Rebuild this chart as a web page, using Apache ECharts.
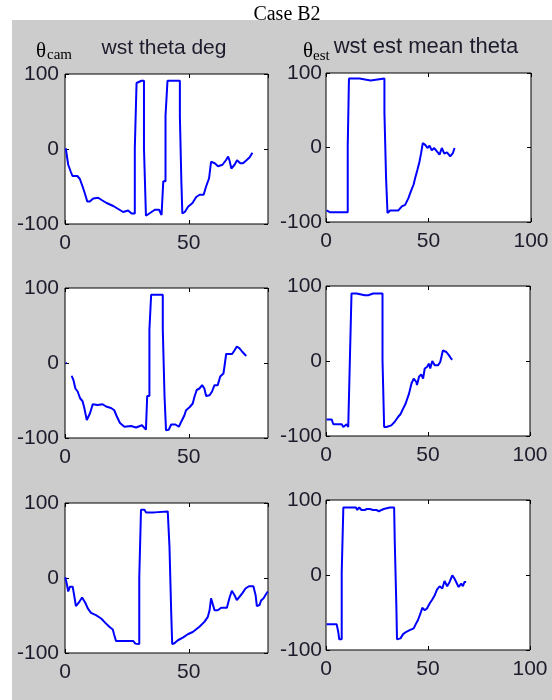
<!DOCTYPE html>
<html>
<head>
    <meta charset="utf-8">
</head>
<body style="margin: 0; background: #fff">
<div id="container" style="width: 552px; height: 700px"></div>

<script type="text/javascript" src="https://fastly.jsdelivr.net/npm/echarts/dist/echarts.min.js"></script>

<script type="text/javascript">
    // y ticks shared by all six panels, x ticks differ between columns
    var yTicks = [-100, 0, 100];
    var xTicksCam = [0, 50];
    var xMaxCam = 82;
    var xTicksEst = [0, 50, 100];

    var titleCam = 'wst theta deg';
    var titleEst = 'wst est mean theta';

    // left column: theta from camera, [sample, deg]
    var cam1 = [
        [0.3, 1], [1.3, -21], [2.3, -30], [3, -36], [5, -36], [6, -40], [7.1, -50], [8, -59], [9, -70], [10, -70],
        [11.4, -66], [13.4, -65], [14.8, -68], [16.8, -72], [19.5, -76], [21.5, -80], [23.5, -84], [25.5, -82],
        [26.9, -86], [28.2, -86], [28.2, 1], [28.9, 1], [28.9, 88], [30.9, 91], [31.9, 91], [31.9, 1], [32.7, 1],
        [32.7, -89], [34.5, -85], [36.3, -81], [38, -81], [39, -88], [39.7, -89], [39.7, -43], [40.6, -43],
        [40.6, 44], [41.4, 44], [41.4, 91], [46.4, 91], [46.4, 44], [47, 44], [47, -43], [47.4, -86], [48.4, -84],
        [49.7, -77], [51.5, -72], [53, -64], [54.4, -61], [56, -61], [57, -50], [58.2, -39], [59, -17],
        [60.5, -19], [61.8, -23], [63.6, -21], [65, -15], [65.9, -10], [66.5, -16], [67.2, -26], [68.5, -21],
        [69.5, -15], [70.8, -19], [71.9, -19], [73.3, -15], [74.6, -11], [75.7, -5]
    ];
    var cam2 = [
        [0.3, 0], [0.7, 0], [1.5, '-'], [2.7, -17], [3.4, -22.8], [4.2, -34], [5.1, -38], [6.1, -47], [7.1, -51],
        [7.8, -60], [8.8, -76], [9.6, -76], [10.1, -67], [11.2, -55], [13.2, -56], [15.2, -55], [16.6, -58],
        [18.6, -60], [19.9, -63], [20.9, -71], [22.2, -80], [24, -85], [26.7, -84], [28.7, -86], [31.1, -83],
        [32.7, -88.8], [33.2, -88.8], [33.2, -44], [34.1, -44], [34.1, 45], [34.8, 45], [34.8, 91], [39.5, 91],
        [39.5, 45], [40.2, 45], [40.2, -44], [40.8, -44], [40.8, -89.7], [41.9, -89], [42.9, -82], [44.6, -82],
        [46, -85], [46.9, -78.6], [48.2, -70], [48.9, -63], [50.3, -59], [51.6, -54], [52.3, -45], [53.2, -36],
        [54.3, -34], [55.4, -29.5], [56.3, -34], [57, -44], [58.4, -43], [59.4, -38], [60.4, -29.5], [61.7, -29.5],
        [62.7, -18], [64, -14], [64.4, -5], [65.1, 12], [67.5, 12], [68.5, 17], [69.4, 22], [70.5, 19.6],
        [71.6, 15], [73.2, 9.4]
    ];
    var cam3 = [
        [0.1, 1], [0.8, -9], [1.3, -18], [2, -11.6], [3.1, -11.6], [3.8, -25], [4.4, -37.5], [5.8, -31.7],
        [6.9, -26], [8.2, -33], [9.2, -40.6], [10.5, -46.4], [12.5, -49.6], [14.6, -54], [16.3, -59.8],
        [17.9, -65], [19.3, -68.7], [19.9, -76], [20.6, -84], [27.6, -84], [28.4, -87.5], [30, -88], [30, 1],
        [30.7, 1], [30.7, 91], [32.1, 91], [32.7, 87.5], [36.1, 87.5], [36.8, 88.8], [41.5, 88.8], [42.2, 42],
        [42.6, 42], [42.9, -46], [43.3, -46], [43.3, -88], [44.2, -87], [45.6, -83], [47.6, -79.5], [49.6, -75],
        [51.6, -72], [54.3, -65], [56.3, -58.5], [57.7, -51.8], [58.4, -43], [59, -27], [59.7, -27], [60.4, -43],
        [61.7, -43], [63.1, -39.7], [65.4, -39.7], [66.4, -27], [67.4, -17], [68.5, -23], [69.4, -29.5],
        [70.5, -25], [71.6, -20.5], [72.9, -14], [74.3, -11], [76.1, -11], [77, -23], [77.5, -37.5], [78.6, -36],
        [79.2, -30], [80.2, -27], [81.3, -21], [81.9, -18]
    ];

    // right column: estimated mean theta
    var est1 = [
        [0.3, -84.5], [2, -87], [5.2, -87], [6, -85], [6.8, -87], [10.6, -87], [10.6, 1.5], [11.2, 1.5],
        [11.2, 92.5], [16.3, 92.5], [16.9, 90], [21.8, 90], [22.5, 92.5], [28.5, 92.5], [28.5, 47], [29.3, 47],
        [29.3, -41], [30, -41], [30, -88], [31.3, -84.5], [35.3, -84.5], [37, -79], [38.6, -77], [40.2, -68],
        [41.4, -59], [42.7, -50], [43.5, -41], [44.6, -30], [45.6, -19], [46.4, -7.6], [47.2, 5.8], [48.4, 3.5],
        [49.5, -0.7], [50.5, 2.5], [51.6, -3.8], [52.8, -0.7], [54, -5], [55.4, -9.6], [56.5, -0.7], [57.7, -8.3],
        [59, -6.5], [60.6, -11.9], [61.9, -7.4], [62.7, -0.7]
    ];
    var est2 = [
        [0.3, -78], [2.8, -78], [3.6, -84.4], [7.7, -84.4], [8.5, -88], [10.1, -84.4], [10.9, -88], [11.7, -88],
        [11.7, 1], [12.5, 1], [12.5, 90], [15, 90], [15.8, 87.6], [19, 87.6], [19.9, 90], [20.7, 87.6], [23.1, 90],
        [27.7, 90], [27.7, 1], [28.5, 1], [28.5, -88], [29.6, -88], [32, -85.8], [33.7, -81], [35.3, -74.7],
        [36.5, -71], [37.8, -63.5], [39, -57], [39.9, -54.7], [40.7, -43.5], [41.9, -30], [43, -23.5], [44.3, -28],
        [44.6, -32], [45.6, -21], [46.7, -17.8], [47.6, -23.5], [48.4, -10], [49.5, -8], [50.5, -3.5], [51.1, -10],
        [52.1, 0], [53.3, -5.8], [54.9, -5.8], [56, -1.3], [57.3, 14], [59, 12], [60.3, 7.5], [61.4, 3], [61.9, 1.8]
    ];
    var est3 = [
        [0.3, -65.5], [5.2, -65.5], [6, -75.7], [6.5, -85.8], [7.7, -85.8], [7.7, 2.7], [8.5, 2.7], [8.5, 90],
        [14.7, 90], [15.3, 86.7], [16.3, 90], [17.4, 86.7], [19, 86.7], [20, 88], [21.5, 88], [23.1, 86.7],
        [24.7, 86.7], [26, 85], [27.2, 86.7], [28.3, 88], [31.3, 90], [33.4, 90], [33.7, 45], [34.2, 45],
        [34.5, -42.5], [34.8, -42.5], [34.8, -85.8], [36.5, -84.5], [37.8, -78.8], [39.4, -75.7], [41, -73.5],
        [43, -71.2], [44, -65.5], [45.1, -60], [46.3, -51.3], [47.2, -43.8], [48.4, -46.9], [49.5, -44.7],
        [50.8, -38], [52.1, -32.7], [53.3, -27], [54.4, -19.5], [55.7, -15], [57, -18], [58.1, -8], [59.4, -15],
        [60.6, -9.3], [61.9, -0.4], [63, -4.9], [63.8, -9.3], [65, -16], [66.3, -11.5], [67.1, -15],
        [67.9, -9.3], [68.7, -9.3]
    ];

    var panels = [
        {data: cam1, cam: true, left: 65, top: 74, width: 203, height: 150},
        {data: est1, cam: false, left: 326, top: 73, width: 205, height: 149},
        {data: cam2, cam: true, left: 65, top: 288, width: 203, height: 150},
        {data: est2, cam: false, left: 326, top: 286, width: 204, height: 150},
        {data: cam3, cam: true, left: 65, top: 503, width: 203, height: 150},
        {data: est3, cam: false, left: 326, top: 500, width: 204, height: 150}
    ];

    var labelFont = {fontFamily: 'Liberation Sans, Arial', fontSize: 21, color: '#1c1c2c'};
    var tick = {show: true, inside: true, length: 4, lineStyle: {color: '#000', width: 1}};

    var grids = [], xAxes = [], yAxes = [], seriesList = [];
    panels.forEach(function (p, i) {
        grids.push({
            left: p.left, top: p.top, width: p.width, height: p.height,
            show: true, backgroundColor: '#fff', borderColor: '#000', borderWidth: 1,
            outerBoundsMode: 'none', containLabel: false
        });
        var xt = p.cam ? xTicksCam : xTicksEst;
        var xMin = xt[0], xMax = p.cam ? xMaxCam : xt[xt.length - 1];
        ['bottom', 'top'].forEach(function (pos) {
            xAxes.push({
                type: 'value', gridIndex: i, position: pos,
                min: xMin, max: xMax, interval: xt[1] - xt[0],
                axisLine: {show: false, onZero: false}, axisTick: tick, splitLine: {show: false},
                axisLabel: Object.assign({
                    show: pos === 'bottom', margin: 9, showMaxLabel: !p.cam, showMinLabel: true
                }, labelFont)
            });
        });
        ['left', 'right'].forEach(function (pos) {
            yAxes.push({
                type: 'value', gridIndex: i, position: pos,
                min: yTicks[0], max: yTicks[yTicks.length - 1], interval: yTicks[1] - yTicks[0],
                axisLine: {show: false, onZero: false}, axisTick: tick, splitLine: {show: false},
                axisLabel: Object.assign({
                    show: pos === 'left', margin: p.cam ? 6 : 4, showMaxLabel: true, showMinLabel: true
                }, labelFont)
            });
        });
        seriesList.push({
            type: 'line', xAxisIndex: i * 2, yAxisIndex: i * 2,
            data: p.data, showSymbol: false, symbol: 'none', animation: false,
            lineStyle: {color: '#0000ff', width: 2}, connectNulls: false
        });
    });

    var titleStyle = {fontFamily: 'Liberation Sans, Arial', fill: '#1c1c2c', align: 'center', verticalAlign: 'middle'};
    var serif = 'Liberation Serif, Times New Roman';

    var dom = document.getElementById('container');
    var myChart = echarts.init(dom, null, {renderer: 'canvas'});
    var option = {
        animation: false,
        backgroundColor: '#fff',
        graphic: [
            {type: 'rect', z: -10, silent: true, shape: {x: 12, y: 20, width: 540, height: 680}, style: {fill: '#cccccc'}},
            {type: 'text', x: 287, y: 15, style: {text: 'Case B2', font: '20px ' + serif, fill: '#000', align: 'center', verticalAlign: 'middle'}},
            {type: 'text', x: 164, y: 48, style: Object.assign({text: titleCam, fontSize: 21}, titleStyle)},
            {type: 'text', x: 426, y: 46.5, style: Object.assign({text: titleEst, fontSize: 22}, titleStyle)},
            {type: 'text', x: 36, y: 51, style: {text: 'θ', font: '21px ' + serif, fill: '#000', align: 'left', verticalAlign: 'middle'}},
            {type: 'text', x: 47, y: 55, style: {text: 'cam', font: '15px ' + serif, fill: '#000', align: 'left', verticalAlign: 'middle'}},
            {type: 'text', x: 303, y: 51, style: {text: 'θ', font: '21px ' + serif, fill: '#000', align: 'left', verticalAlign: 'middle'}},
            {type: 'text', x: 313, y: 56, style: {text: 'est', font: '15px ' + serif, fill: '#000', align: 'left', verticalAlign: 'middle'}}
        ],
        grid: grids,
        xAxis: xAxes,
        yAxis: yAxes,
        series: seriesList
    };
    myChart.setOption(option);

    window.addEventListener('resize', myChart.resize);
</script>
</body>
</html>
